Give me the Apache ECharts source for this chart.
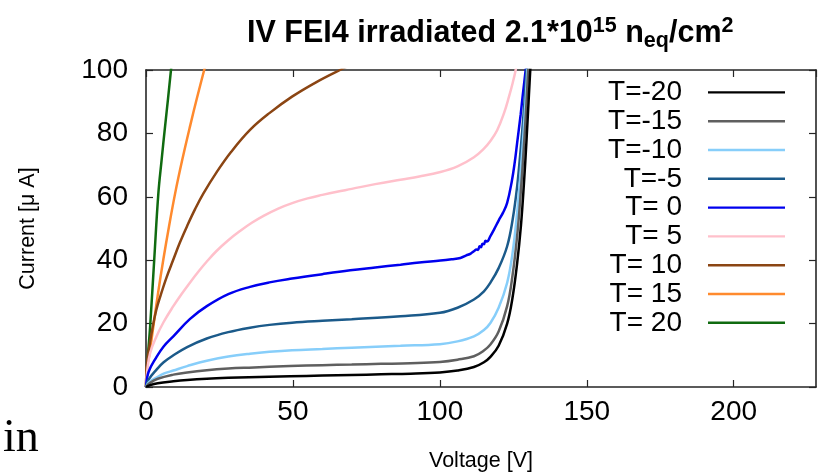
<!DOCTYPE html>
<html>
<head>
<meta charset="utf-8">
<script src="https://cdn.jsdelivr.net/npm/echarts@6/dist/echarts.min.js"></script>
<style>
  html, body { margin: 0; padding: 0; background: #fff; }
  #chart { width: 821px; height: 474px; }
</style>
</head>
<body>
<div id="chart"></div>
<script>
// IV curves of an irradiated FEI4 module at several temperatures: [voltage (V), current (uA)]
const seriesNames = ['T=-20', 'T=-15', 'T=-10', 'T=-5', 'T= 0', 'T= 5', 'T= 10', 'T= 15', 'T= 20'];
const seriesColors = ['#000000', '#5f5f5f', '#87cefa', '#1b5a8a', '#0000ee', '#ffc0cb', '#8b4513', '#ff8a2e', '#106b10'];

const ivM20 = [[0,0],[1.4,0.6],[4,1.2],[9.3,1.8],[14,2.2],[20.7,2.6],[28,2.9],[35,3.1],[49,3.4],[60,3.6],[70,3.8],[80,4],[90,4.2],[100,4.6],[106,5.2],[111.6,6.3],[115,7.8],[117.2,9.5],[120,13],[122.9,20],[124.7,28],[126.3,39],[127.6,51],[128.6,64],[129.5,78],[130.3,92],[131,104]];
const ivM15 = [[0,0],[1.4,1.3],[4,2.6],[9.3,3.9],[14,4.6],[20.7,5.3],[28,5.8],[35,6.1],[49,6.6],[60,6.9],[70,7.1],[80,7.3],[90,7.5],[100,7.9],[106,8.6],[111.6,9.7],[115,11.5],[117.2,13.4],[120,17.5],[122.9,25.5],[124.7,35],[126.3,47.6],[127.5,61],[128.6,76],[129.5,90],[130.2,103]];
const ivM10 = [[0,0],[1,1.5],[3.6,3],[6,4.2],[9.3,5.2],[14,6.6],[20.7,8.3],[28,9.6],[35.4,10.5],[42,11.1],[49.7,11.6],[60,12],[70,12.4],[86.6,13],[100,13.5],[106,14.4],[111.6,16],[115,18],[117.2,20.2],[120,25],[122.9,32.9],[124.7,42],[126.3,55],[127.5,68],[128.6,82],[129.6,97],[130,104]];
const ivM5 = [[0,0],[1,2.5],[3.6,5.5],[6,7.8],[9.3,10],[14,12.6],[20.7,15.3],[28,17.3],[35.4,18.7],[42,19.6],[49.7,20.3],[60,20.9],[70,21.4],[86.6,22.3],[100,23.4],[106,25],[111.6,27.6],[115,30.2],[117.2,32.9],[120,37.5],[122.9,44.4],[124.8,53],[126.3,63.3],[127.5,75],[128.6,87.5],[129.5,100],[129.8,104]];
const ivP0 = [[0,0],[0.9,4.8],[3.6,9.5],[6,12.8],[9.3,16],[15,21.5],[20.7,25.5],[28,29.3],[35.4,31.6],[42,33],[49.7,34.2],[60,35.6],[69.5,36.8],[78,37.7],[86.6,38.6],[93,39.3],[100.2,39.9],[104,40.3],[107,40.7],[109,41.5],[110.5,42.1],[111.6,42.8],[112.5,43.4],[113,43.2],[113.5,44.4],[114,44.1],[114.5,45.2],[115,45.0],[115.5,46.1],[116,45.9],[117.2,47.6],[118.5,49.8],[120,52.5],[121.5,55],[122.9,58.1],[124.5,65],[125.5,71],[126.3,77],[127.5,86],[128.2,92],[129.2,100],[129.6,104]];
const ivP5 = [[0,0],[0.4,5],[1.4,10.7],[3.6,16],[6,20.5],[9.3,25.5],[12,29.2],[15,33],[18,36.6],[20.7,39.6],[24,42.9],[28,46.3],[32,49.2],[36,51.8],[40,54],[45,56.3],[50,58.1],[55,59.5],[60,60.6],[65,61.6],[70,62.5],[78,64],[86.6,65.4],[93,66.4],[100.2,67.8],[106,69.6],[111.6,72.5],[115,75.2],[117.2,77.6],[119.5,81],[121.8,86.3],[123.5,91.5],[124.8,96],[125.8,100],[126.4,104]];
const ivP10 = [[0,0],[0.3,7],[1,12],[2.3,19.1],[3.5,24.3],[5,29],[7,34.6],[9.3,40.2],[11.5,45.5],[14,50.8],[16.7,56.1],[19.5,61],[24,67.7],[29,74.2],[35.4,81.1],[42,86.4],[49.7,91.6],[58,96.2],[66,100],[72,102.6]];
const ivP15 = [[0,0],[0.3,6],[1.1,10],[2.5,19.1],[4,29],[5.9,40.2],[7.8,50.5],[9.9,61],[12.3,71.5],[15,82.3],[17.3,91],[19.8,100],[20.5,102.5]];
const ivP20 = [[0,0],[0.4,7],[1.4,19],[2.8,40.2],[4.2,61],[5.3,71.5],[6.5,82.3],[7.5,91],[8.5,100],[9,104]];

const seriesData = [ivM20, ivM15, ivM10, ivM5, ivP0, ivP5, ivP10, ivP15, ivP20];

// Axis ranges and tick spacing
const xRange = [0, 228];
const xStep = 50;
const yRange = [0, 100];
const yStep = 20;

const FONT = 'Liberation Sans';
const frameColor = '#262626';

const chart = echarts.init(document.getElementById('chart'), null, { renderer: 'canvas' });

const frameAxis = (extra) => Object.assign({
  type: 'value',
  axisLine: { show: true, onZero: false, lineStyle: { color: frameColor, width: 1.6 } },
  axisTick: { show: true, inside: true, length: 7, lineStyle: { color: frameColor, width: 1.2 } },
  splitLine: { show: false },
  minorTick: { show: false }
}, extra);

const option = {
  backgroundColor: '#ffffff',
  animation: false,
  title: {
    text: '{a|IV FEI4 irradiated 2.1*10}{sup|15}{a| n}{sub|eq}{a|/cm}{sup|2}',
    left: 247,
    top: 15,
    padding: 0,
    textStyle: {
      rich: {
        a: { fontFamily: FONT, fontWeight: 'bold', fontSize: 30.5, color: '#000', lineHeight: 37 },
        sup: { fontFamily: FONT, fontWeight: 'bold', fontSize: 21.5, color: '#000', verticalAlign: 'top', lineHeight: 21 },
        sub: { fontFamily: FONT, fontWeight: 'bold', fontSize: 21.5, color: '#000', verticalAlign: 'bottom', lineHeight: 21 }
      }
    }
  },
  legend: {
    orient: 'vertical',
    right: 36,
    top: 78,
    align: 'right',
    icon: 'rect',
    itemWidth: 77,
    itemHeight: 2.4,
    itemGap: 0,
    padding: 0,
    selectedMode: false,
    data: seriesNames,
    textStyle: {
      fontFamily: FONT,
      fontSize: 28,
      color: '#000',
      lineHeight: 28.8,
      padding: [0, 21, 0, 0]
    }
  },
  grid: {
    left: 146,
    right: 5,
    top: 70,
    bottom: 87,
    outerBoundsMode: 'none',
    containLabel: false
  },
  xAxis: [
    frameAxis({
      position: 'bottom',
      min: xRange[0], max: xRange[1], interval: xStep,
      name: 'Voltage [V]',
      nameLocation: 'middle',
      nameGap: 63,
      nameTextStyle: { fontFamily: FONT, fontSize: 21.5, color: '#000' },
      axisLabel: { show: true, margin: 11, showMaxLabel: false, fontFamily: FONT, fontSize: 28, color: '#000' }
    }),
    frameAxis({
      position: 'top',
      min: xRange[0], max: xRange[1], interval: xStep,
      axisLabel: { show: false }
    })
  ],
  yAxis: [
    frameAxis({
      position: 'left',
      min: yRange[0], max: yRange[1], interval: yStep,
      name: 'Current [μ A]',
      nameLocation: 'middle',
      nameGap: 107,
      nameTextStyle: { fontFamily: FONT, fontSize: 21.5, color: '#000' },
      axisLabel: { show: true, margin: 18, fontFamily: FONT, fontSize: 28, color: '#000' }
    }),
    frameAxis({
      position: 'right',
      min: yRange[0], max: yRange[1], interval: yStep,
      axisLabel: { show: false }
    })
  ],
  graphic: [
    {
      type: 'text',
      left: 3,
      top: 416,
      style: { text: 'in', fontFamily: 'Liberation Serif', fontSize: 46, fill: '#000' }
    }
  ],
  series: seriesNames.map((name, i) => ({
    name: name,
    type: 'line',
    xAxisIndex: 0,
    yAxisIndex: 0,
    data: seriesData[i],
    showSymbol: false,
    symbol: 'none',
    smooth: 0.4,
    clip: true,
    color: seriesColors[i],
    lineStyle: { color: seriesColors[i], width: 2.5 },
    z: 10 - i
  }))
};

chart.setOption(option);
</script>
</body>
</html>
